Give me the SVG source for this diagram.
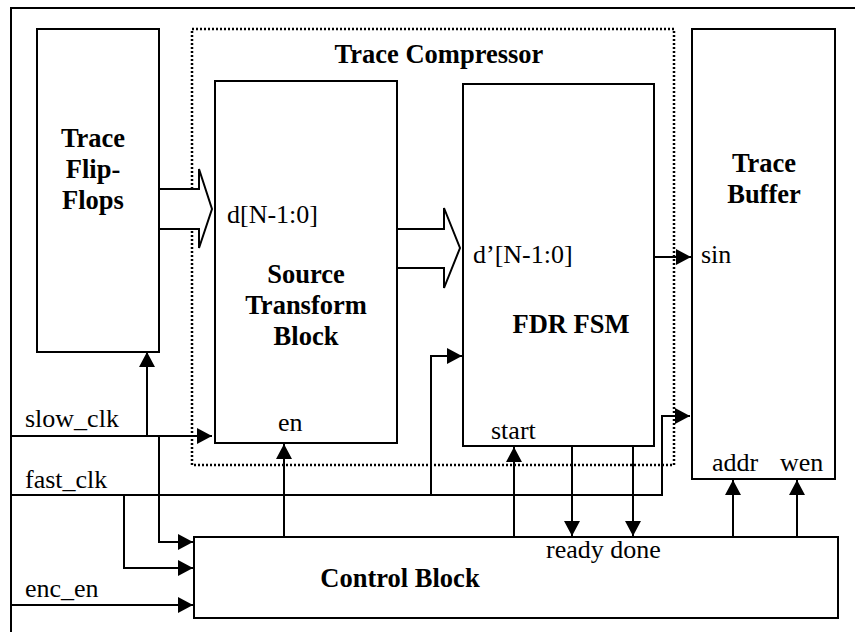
<svg xmlns="http://www.w3.org/2000/svg" width="855" height="632" viewBox="0 0 855 632">
<style>
.box{fill:#fff;stroke:#000;stroke-width:2}
.dot{fill:none;stroke:#000;stroke-width:2.5;stroke-dasharray:2 2}
.w{fill:none;stroke:#000;stroke-width:2}
.bus{fill:#fff;stroke:#000;stroke-width:2;stroke-linejoin:miter}
.t{font-family:"Liberation Serif","Times New Roman",serif;font-size:26px;fill:#000}
.b{font-family:"Liberation Serif","Times New Roman",serif;font-size:26.5px;font-weight:bold;fill:#000;text-anchor:middle}
</style>
<defs>
<marker id="ah" markerUnits="userSpaceOnUse" markerWidth="16" markerHeight="16" refX="15" refY="8" orient="auto">
<path d="M0,0 L15,8 L0,16 Z" fill="#000"/>
</marker>
</defs>
<rect width="855" height="632" fill="#fff"/>
<g id="frame"><path class="w" d="M11,632 V8 H855"/></g>
<g id="trace-compressor">
<rect class="dot" x="192" y="29" width="482" height="436"/>
<text class="b" x="439" y="63">Trace Compressor</text>
</g>
<g id="trace-flip-flops">
<rect class="box" x="37" y="29" width="122" height="323"/>
<text class="b" x="93" y="147">Trace</text>
<text class="b" x="93" y="178">Flip-</text>
<text class="b" x="93" y="209">Flops</text>
</g>
<g id="source-transform">
<rect class="box" x="215" y="81" width="182" height="362"/>
<text class="t" x="227" y="223">d[N-1:0]</text>
<text class="b" x="306" y="283">Source</text>
<text class="b" x="306" y="314">Transform</text>
<text class="b" x="306" y="345">Block</text>
<text class="t" x="278" y="431">en</text>
</g>
<g id="fdr-fsm">
<rect class="box" x="463" y="84" width="191" height="362"/>
<text class="t" x="473" y="263">d’[N-1:0]</text>
<text class="b" x="571" y="333">FDR FSM</text>
<text class="t" x="491" y="439">start</text>
</g>
<g id="trace-buffer">
<rect class="box" x="692" y="29" width="143" height="450"/>
<text class="b" x="764" y="172">Trace</text>
<text class="b" x="764" y="203">Buffer</text>
<text class="t" x="701" y="263">sin</text>
<text class="t" x="712" y="471">addr</text>
<text class="t" x="780" y="471">wen</text>
</g>
<g id="control-block">
<rect class="box" x="194" y="537" width="644" height="81"/>
<text class="t" x="546" y="558">ready done</text>
<text class="b" x="400" y="587">Control Block</text>
</g>
<g id="connectors">
<polygon class="bus" points="159,189 199,189 199,169 212,209 199,248 199,229 159,229"/>
<polygon class="bus" points="397,229 444,229 444,208 460,248 444,288 444,268 397,268"/>
<path class="w" d="M11,436 H212" marker-end="url(#ah)"/>
<path class="w" d="M147,436 V352" marker-end="url(#ah)"/>
<path class="w" d="M159,436 V542 H193" marker-end="url(#ah)"/>
<path class="w" d="M11,495 H662 V416 H690" marker-end="url(#ah)"/>
<path class="w" d="M124,495 V568 H193" marker-end="url(#ah)"/>
<path class="w" d="M431,495 V356 H462" marker-end="url(#ah)"/>
<path class="w" d="M11,605 H193" marker-end="url(#ah)"/>
<path class="w" d="M284,537 V444" marker-end="url(#ah)"/>
<path class="w" d="M514,537 V447" marker-end="url(#ah)"/>
<path class="w" d="M572,446 V536" marker-end="url(#ah)"/>
<path class="w" d="M633,446 V536" marker-end="url(#ah)"/>
<path class="w" d="M733,537 V480" marker-end="url(#ah)"/>
<path class="w" d="M797,537 V480" marker-end="url(#ah)"/>
<path class="w" d="M654,257 H691" marker-end="url(#ah)"/>
</g>
<g id="labels">
<text class="t" x="25" y="427">slow_clk</text>
<text class="t" x="25" y="488">fast_clk</text>
<text class="t" x="25" y="597">enc_en</text>
</g>
</svg>
